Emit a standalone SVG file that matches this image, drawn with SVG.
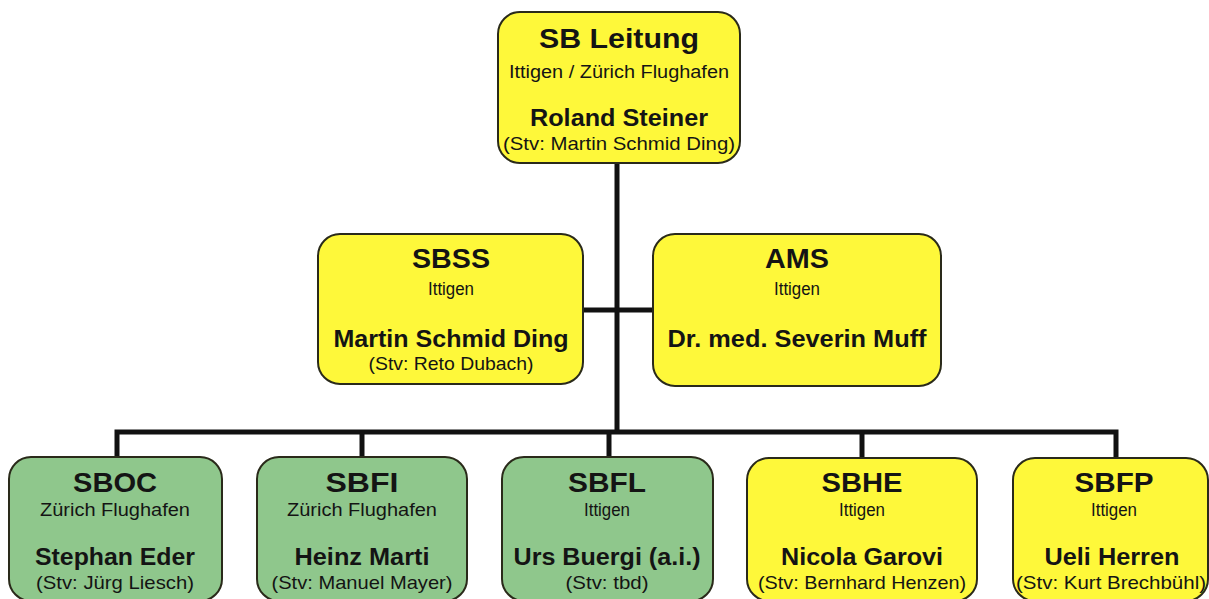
<svg xmlns="http://www.w3.org/2000/svg" width="1209" height="599" viewBox="0 0 1209 599">
<style>
.y{fill:#FEF83A;stroke:#2a2a1a;stroke-width:2}
.g{fill:#8FC78C;stroke:#2a2a1a;stroke-width:2}
text{font-family:"Liberation Sans",Arial,sans-serif;fill:#141414;text-anchor:middle}
.t{font-size:27px;font-weight:bold}
.l{font-size:17.5px}
.n{font-size:23.5px;font-weight:bold}
.s{font-size:18.5px}
.c{fill:none;stroke:#111;stroke-width:5;stroke-linejoin:miter}
</style>
<rect width="1209" height="599" fill="#fff"/>
<g id="connectors">
<path class="c" d="M617,163 V432"/>
<path class="c" d="M583,310 H653"/>
<path class="c" d="M117,458 V432 H1116 V458"/>
<path class="c" d="M362,432 V458"/>
<path class="c" d="M609,432 V458"/>
<path class="c" d="M862,432 V458"/>
</g>
<g id="sb-leitung">
<rect class="y" x="498" y="12" width="242" height="151" rx="22"/>
<text class="t" x="619" y="48" textLength="160" lengthAdjust="spacingAndGlyphs">SB Leitung</text>
<text class="l" x="619" y="78" textLength="220" lengthAdjust="spacingAndGlyphs">Ittigen / Zürich Flughafen</text>
<text class="n" x="619" y="126" textLength="178" lengthAdjust="spacingAndGlyphs">Roland Steiner</text>
<text class="s" x="619" y="150" textLength="232" lengthAdjust="spacingAndGlyphs">(Stv: Martin Schmid Ding)</text>
</g>
<g id="sbss">
<rect class="y" x="318" y="234" width="265" height="150" rx="22"/>
<text class="t" x="451" y="268" textLength="78" lengthAdjust="spacingAndGlyphs">SBSS</text>
<text class="l" x="451" y="295" textLength="46" lengthAdjust="spacingAndGlyphs">Ittigen</text>
<text class="n" x="451" y="347" textLength="235" lengthAdjust="spacingAndGlyphs">Martin Schmid Ding</text>
<text class="s" x="451" y="370" textLength="165" lengthAdjust="spacingAndGlyphs">(Stv: Reto Dubach)</text>
</g>
<g id="ams">
<rect class="y" x="653" y="234" width="288" height="152" rx="22"/>
<text class="t" x="797" y="268" textLength="64" lengthAdjust="spacingAndGlyphs">AMS</text>
<text class="l" x="797" y="295" textLength="46" lengthAdjust="spacingAndGlyphs">Ittigen</text>
<text class="n" x="797" y="347" textLength="259" lengthAdjust="spacingAndGlyphs">Dr. med. Severin Muff</text>
</g>
<g id="sboc">
<rect class="g" x="9" y="457" width="213" height="144" rx="22"/>
<text class="t" x="115" y="492" textLength="84" lengthAdjust="spacingAndGlyphs">SBOC</text>
<text class="l" x="115" y="516" textLength="150" lengthAdjust="spacingAndGlyphs">Zürich Flughafen</text>
<text class="n" x="115" y="565" textLength="160" lengthAdjust="spacingAndGlyphs">Stephan Eder</text>
<text class="s" x="115" y="589" textLength="158" lengthAdjust="spacingAndGlyphs">(Stv: Jürg Liesch)</text>
</g>
<g id="sbfi">
<rect class="g" x="257" y="457" width="210" height="144" rx="22"/>
<text class="t" x="362" y="492" textLength="73" lengthAdjust="spacingAndGlyphs">SBFI</text>
<text class="l" x="362" y="516" textLength="150" lengthAdjust="spacingAndGlyphs">Zürich Flughafen</text>
<text class="n" x="362" y="565" textLength="135" lengthAdjust="spacingAndGlyphs">Heinz Marti</text>
<text class="s" x="362" y="589" textLength="181" lengthAdjust="spacingAndGlyphs">(Stv: Manuel Mayer)</text>
</g>
<g id="sbfl">
<rect class="g" x="502" y="457" width="211" height="144" rx="22"/>
<text class="t" x="607" y="492" textLength="78" lengthAdjust="spacingAndGlyphs">SBFL</text>
<text class="l" x="607" y="516" textLength="46" lengthAdjust="spacingAndGlyphs">Ittigen</text>
<text class="n" x="607" y="565" textLength="187" lengthAdjust="spacingAndGlyphs">Urs Buergi (a.i.)</text>
<text class="s" x="607" y="589" textLength="83" lengthAdjust="spacingAndGlyphs">(Stv: tbd)</text>
</g>
<g id="sbhe">
<rect class="y" x="747" y="458" width="230" height="143" rx="22"/>
<text class="t" x="862" y="492" textLength="81" lengthAdjust="spacingAndGlyphs">SBHE</text>
<text class="l" x="862" y="516" textLength="46" lengthAdjust="spacingAndGlyphs">Ittigen</text>
<text class="n" x="862" y="565" textLength="162" lengthAdjust="spacingAndGlyphs">Nicola Garovi</text>
<text class="s" x="862" y="589" textLength="208" lengthAdjust="spacingAndGlyphs">(Stv: Bernhard Henzen)</text>
</g>
<g id="sbfp">
<rect class="y" x="1013" y="458" width="195" height="143" rx="22"/>
<text class="t" x="1114" y="492" textLength="79" lengthAdjust="spacingAndGlyphs">SBFP</text>
<text class="l" x="1114" y="516" textLength="46" lengthAdjust="spacingAndGlyphs">Ittigen</text>
<text class="n" x="1112" y="565" textLength="135" lengthAdjust="spacingAndGlyphs">Ueli Herren</text>
<text class="s" x="1111" y="589" textLength="190" lengthAdjust="spacingAndGlyphs">(Stv: Kurt Brechbühl)</text>
</g>
</svg>
